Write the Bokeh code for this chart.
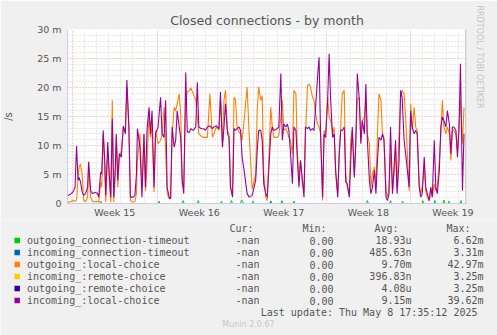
from bokeh.plotting import figure
from bokeh.layouts import column, row
from bokeh.models import Range1d, FixedTicker, Grid, Span, Title
from bokeh.core.properties import value
from bokeh.embed import file_html
from bokeh.resources import INLINE

# ---------------- data (values in milli-connections per second) ----------------
# time: hours since Monday 00:00 of week 15
hours = [-9, -4, 1, 5, 8, 11, 13, 16, 19, 22,
         26, 30, 32, 36, 40, 44, 49, 52, 56, 58,
         61, 64, 66, 70, 73, 76, 79, 82, 85, 87,
         90, 93, 97, 101, 105, 108, 112, 115, 120, 124,
         127, 129, 134, 138, 142, 145, 148, 152, 155, 158,
         162, 165, 170, 175, 178, 182, 185, 188, 192, 195,
         198, 202, 205, 208, 212, 215, 218, 221, 225, 228,
         232, 235, 240, 245, 248, 251, 256, 261, 264, 268,
         273, 278, 281, 286, 291, 294, 298, 301, 304, 308,
         311, 314, 318, 321, 324, 327, 331, 334, 337, 341,
         347, 351, 357, 364, 367, 370, 374, 377, 380, 384,
         387, 394, 397, 400, 407, 410, 414, 417, 420, 424,
         427, 430, 433, 437, 440, 444, 447, 450, 453, 457,
         460, 463, 467, 470, 473, 477, 480, 483, 487, 490,
         493, 497, 500, 503, 507, 510, 513, 517, 520, 523,
         527, 530, 533, 536, 540, 543, 546, 550, 553, 556,
         560, 563, 566, 570, 573, 576, 580, 583, 586, 590,
         593, 596, 600, 603, 606, 609, 613, 616, 619, 623,
         626, 629, 632, 636, 639, 642, 645, 649, 652, 655,
         659, 662, 669, 672, 675, 679, 682, 685, 689, 692,
         695, 699, 702, 705, 709, 712, 715, 719, 722, 725,
         729, 732, 735, 738, 742, 745, 749, 752, 755, 758,
         762, 765, 768, 771, 775, 778]

incoming_local_choice = [
    1.4, 1.6, 2.0, 2.8, 9.9, 4.0, 4.5, 3.7, 2.0, 1.4,
    1.7, 2.8, 7.2, 2.2, 1.7, 1.9, 1.8, 1.1, 5.4, 5.1,
    12.6, 7.4, 1.4, 10.6, 5.1, 1.1, 14.6, 1.1, 6.3, 12.0,
    4.0, 8.6, 8.0, 13.4, 12.0, 21.3, 13.2, 1.1, 1.1, 1.4,
    5.1, 12.9, 9.7, 1.1, 12.0, 2.8, 12.6, 16.6, 12.0, 16.0,
    2.8, 12.0, 13.2, 18.3, 12.0, 11.4, 17.8, 2.8, 1.1, 0.8,
    13.2, 9.7, 10.9, 16.0, 13.2, 11.4, 4.0, 1.7, 22.6, 12.3,
    12.3, 12.9, 12.6, 13.2, 20.9, 13.2, 12.9, 12.9, 12.6, 13.2,
    13.4, 12.9, 13.2, 13.4, 12.9, 19.2, 9.7, 13.2, 17.2, 12.0,
    11.4, 2.8, 1.1, 12.9, 12.6, 12.9, 13.2, 12.6, 8.0, 5.7,
    1.7, 1.1, 1.4, 4.0, 9.1, 12.6, 12.6, 10.9, 3.4, 1.7,
    1.1, 12.0, 13.2, 12.6, 12.9, 13.2, 22.4, 10.9, 13.7, 13.2,
    13.7, 12.6, 9.1, 3.4, 13.2, 12.6, 7.4, 2.8, 7.4, 4.0,
    1.1, 13.2, 12.9, 13.2, 12.6, 12.9, 12.6, 16.6, 21.8, 25.2,
    12.0, 1.1, 12.0, 11.4, 17.8, 25.8, 17.8, 11.4, 12.0, 5.7,
    1.1, 8.6, 12.6, 12.6, 13.2, 3.7, 3.4, 1.1, 7.4, 13.2,
    4.5, 10.3, 22.4, 17.8, 10.3, 14.3, 12.0, 20.6, 10.9, 4.0,
    1.7, 2.8, 5.7, 1.7, 7.4, 11.4, 10.9, 12.0, 10.9, 1.1,
    0.5, 1.7, 13.2, 1.7, 6.3, 10.9, 1.7, 7.4, 19.5, 18.3,
    10.9, 8.6, 2.8, 16.0, 13.2, 12.0, 12.6, 12.0, 2.8, 1.1,
    1.7, 8.0, 2.8, 1.7, 0.5, 2.8, 1.1, 10.9, 2.8, 1.7,
    5.7, 13.2, 14.9, 14.3, 13.2, 16.0, 13.7, 8.6, 13.2, 13.2,
    12.6, 8.0, 12.6, 24.1, 2.2, 12.0]

outgoing_local_choice = [
    0.2, 0.3, 0.5, 0.4, 0.6, 4.5, 6.3, 6.8, 5.1, 0.6,
    0.3, 1.1, 7.0, 1.1, 0.3, 0.3, 0.4, 0.2, 3.7, 2.8,
    12.0, 6.3, 0.2, 9.7, 4.0, 0.2, 17.8, 0.2, 5.1, 11.4,
    2.8, 8.0, 9.1, 13.2, 12.3, 20.1, 12.9, 0.5, 0.2, 0.3,
    1.7, 7.4, 12.0, 2.8, 12.0, 2.2, 6.3, 16.0, 11.4, 13.2,
    2.0, 12.6, 10.3, 10.9, 12.0, 16.6, 9.1, 1.7, 0.8, 1.1,
    12.0, 16.6, 16.0, 17.2, 18.9, 15.5, 3.4, 2.8, 17.8, 19.2,
    19.5, 19.9, 18.9, 17.8, 14.9, 12.0, 11.6, 11.4, 11.4, 11.4,
    18.9, 11.4, 12.0, 13.2, 12.6, 17.8, 10.3, 17.8, 19.5, 12.6,
    12.0, 3.1, 1.4, 18.3, 17.8, 13.2, 12.3, 12.0, 10.9, 14.3,
    20.1, 12.0, 2.5, 5.1, 16.0, 20.1, 17.8, 18.6, 5.1, 1.1,
    0.5, 16.6, 13.2, 11.4, 11.4, 11.7, 14.9, 17.8, 12.6, 12.9,
    12.3, 11.4, 10.9, 8.6, 19.5, 18.9, 8.6, 4.0, 7.4, 3.4,
    2.2, 12.0, 20.3, 20.6, 20.1, 18.3, 17.8, 15.5, 13.7, 13.2,
    12.0, 0.5, 12.6, 12.0, 18.3, 14.9, 14.3, 12.0, 13.2, 5.1,
    1.7, 8.0, 13.2, 18.9, 19.5, 5.1, 2.8, 1.7, 10.9, 12.6,
    5.1, 10.9, 17.8, 18.3, 10.9, 14.3, 14.9, 17.8, 12.0, 10.3,
    2.8, 5.1, 6.3, 2.8, 12.0, 18.9, 17.8, 12.0, 11.4, 2.2,
    1.1, 2.8, 8.6, 2.2, 5.1, 9.1, 2.8, 12.0, 18.3, 19.5,
    18.9, 14.9, 2.2, 17.2, 12.6, 16.6, 13.2, 12.6, 3.4, 1.7,
    2.8, 6.3, 2.2, 1.1, 0.5, 2.8, 1.1, 3.4, 2.2, 2.8,
    7.4, 12.0, 17.8, 13.2, 12.0, 13.2, 12.0, 7.4, 12.6, 12.6,
    12.0, 9.1, 13.2, 17.8, 10.3, 16.6]

green_hours = [-9, 54, 56, 58, 170, 172, 174, 218, 220, 222, 248, 250, 252,
               294, 296, 298, 314, 316, 318, 334, 336, 338, 340, 357, 359, 361,
               414, 416, 418, 438, 440, 442, 584, 586, 588, 630, 632, 634,
               654, 656, 658, 694, 696, 698, 718, 720, 722, 736, 738, 740,
               746, 748, 750, 770, 772, 774, 778]
outgoing_connection_timeout = [0, 0, 0.4, 0, 0, 0.4, 0, 0, 0.5, 0, 0, 0.5, 0,
                               0, 0.4, 0, 0, 0.5, 0, 0, 0.6, 0.4, 0, 0, 0.4, 0,
                               0, 0.5, 0, 0, 0.4, 0, 0, 0.5, 0, 0, 0.5, 0,
                               0, 0.4, 0, 0, 0.5, 0, 0, 0.5, 0, 0, 0.6, 0,
                               0, 0.4, 0, 0, 0.5, 0, 0]
blue_hours = [-9, 392, 394, 396, 778]
incoming_connection_timeout = [0, 0, 0.4, 0, 0]
yellow_hours = [-9, 668]
incoming_remote_choice = [0, 0]
darkblue_hours = [714, 778]
outgoing_remote_choice = [0, 0]

week_labels = ["Week 15", "Week 16", "Week 17", "Week 18", "Week 19"]
y_ticks = [0, 5, 10, 15, 20, 25, 30]
y_labels = ["0", "5 m", "10 m", "15 m", "20 m", "25 m", "30 m"]

legend_names = ["outgoing_connection-timeout", "incoming_connection-timeout",
                "outgoing_:local-choice", "incoming_:remote-choice",
                "outgoing_:remote-choice", "incoming_:local-choice"]
legend_colors = ["#00CC00", "#0066B3", "#FF8000", "#FFCC00", "#330099", "#990099"]
legend_cur = ["-nan"] * 6
legend_min = ["0.00"] * 6
legend_avg = ["18.93u", "485.63n", "9.70m", "396.83n", "4.08u", "9.15m"]
legend_max = ["6.62m", "3.31m", "42.97m", "3.25m", "3.25m", "39.62m"]
headers = ["Cur:", "Min:", "Avg:", "Max:"]

# ---------------- chart ----------------
W = 497
H1 = 220          # chart part
H2 = 335 - H1     # legend part
FL, FR, FT, FB = 67, 466, 29, 203
X0, X1 = -10.0, 783.0
GREY_TXT = "#555555"
BG = "#F0F0F0"

p = figure(width=W, height=H1, output_backend="svg", toolbar_location=None,
           x_range=Range1d(X0, X1), y_range=Range1d(0, 30),
           min_border_left=FL, min_border_right=W - FR,
           min_border_top=FT, min_border_bottom=H1 - FB)
p.border_fill_color = BG
p.background_fill_color = "#FFFFFF"
p.outline_line_color = None
p.xgrid.visible = False
p.ygrid.visible = False

p.title.text = "Closed connections - by month"
p.title.align = "center"
p.title.offset = -18
p.title.text_font = "DejaVu Sans"
p.title.text_font_size = "12.5px"
p.title.text_font_style = "normal"
p.title.text_color = GREY_TXT
p.title.standoff = 4

p.add_layout(Title(text="RRDTOOL / TOBI OETIKER", align="left", offset=-24,
                   text_font="DejaVu Sans", text_font_size="8px", text_font_style="normal",
                   text_color="#C4C4C4", standoff=16), "right")

day_ticks = [24 * k for k in range(0, 33) if k % 7 != 0]
week_ticks = [24 * k for k in range(0, 33, 7)]
minor_y = [v for v in range(1, 30) if v % 5 != 0]

p.add_layout(Grid(dimension=0, ticker=FixedTicker(ticks=day_ticks),
                  grid_line_color="#D4D4D4", grid_line_dash="1 2"), "center")
p.add_layout(Grid(dimension=1, ticker=FixedTicker(ticks=minor_y),
                  grid_line_color="#D4D4D4", grid_line_dash="1 2"), "center")
p.add_layout(Grid(dimension=0, ticker=FixedTicker(ticks=week_ticks),
                  grid_line_color="#E89A9A", grid_line_dash="1 2"), "center")
p.add_layout(Grid(dimension=1, ticker=FixedTicker(ticks=y_ticks[1:]),
                  grid_line_color="#E89A9A", grid_line_dash="1 2"), "center")

axis_col = "#C8CCF0"
for ax in (p.xaxis[0], p.yaxis[0]):
    ax.axis_line_color = axis_col
    ax.major_tick_line_color = None
    ax.minor_tick_line_color = None
    ax.major_tick_out = 0
    ax.major_tick_in = 0
    ax.minor_tick_out = 0
    ax.minor_tick_in = 0
    ax.major_label_text_font = "DejaVu Sans"
    ax.major_label_text_font_size = "9.5px"
    ax.major_label_text_color = GREY_TXT

p.yaxis.ticker = FixedTicker(ticks=y_ticks)
p.yaxis.major_label_overrides = {t: l for t, l in zip(y_ticks, y_labels)}
p.yaxis.major_label_standoff = 6
p.yaxis.axis_label = "/s"
p.yaxis.axis_label_text_font = "DejaVu Sans"
p.yaxis.axis_label_text_font_size = "10px"
p.yaxis.axis_label_text_font_style = "normal"
p.yaxis.axis_label_text_color = GREY_TXT
p.yaxis.axis_label_standoff = 20

mid_week = [84 + 168 * i for i in range(len(week_labels))]
p.xaxis.ticker = FixedTicker(ticks=mid_week)
p.xaxis.major_label_overrides = {t: l for t, l in zip(mid_week, week_labels)}
p.xaxis.major_label_standoff = 3

# series, in munin draw order
p.line(green_hours, outgoing_connection_timeout, line_color=legend_colors[0], line_width=1)
p.line(blue_hours, incoming_connection_timeout, line_color=legend_colors[1], line_width=1)
p.line(hours, outgoing_local_choice, line_color=legend_colors[2], line_width=1.1)
p.line(yellow_hours, incoming_remote_choice, line_color="#E8C070", line_width=1)
p.line(darkblue_hours, outgoing_remote_choice, line_color="#8070C8", line_width=1)
p.line(hours, incoming_local_choice, line_color=legend_colors[5], line_width=1.1)

p.add_layout(Span(location=X1 - 1, dimension="height", line_color="#A0A0A0", line_width=1))

# ---------------- legend part (data units = page pixels) ----------------
q = figure(width=W, height=H2, output_backend="svg", toolbar_location=None,
           x_range=Range1d(0, W), y_range=Range1d(335, H1),
           x_axis_location=None, y_axis_location=None, min_border=0)
q.border_fill_color = BG
q.background_fill_color = BG
q.outline_line_color = None
q.grid.visible = False

MONO = value("DejaVu Sans Mono")
head_y, row_y0, row_dy = 228, 240, 12
rows_y = [row_y0 + row_dy * i for i in range(len(legend_names))]

q.text(x=[253, 326, 398, 470], y=[head_y] * 4, text=headers, text_font=MONO,
       text_font_size="10px", text_color=GREY_TXT, text_align="right", text_baseline="middle")
q.rect(x=[16.7] * 6, y=rows_y, width=5.5, height=5.5, fill_color=legend_colors, line_color=None)
q.text(x=[26.5] * 6, y=rows_y, text=legend_names, text_font=MONO, text_font_size="10px",
       text_color=GREY_TXT, text_align="left", text_baseline="middle")
for col_x, col in zip([259, 333, 411, 483], [legend_cur, legend_min, legend_avg, legend_max]):
    q.text(x=[col_x] * 6, y=rows_y, text=col, text_font=MONO, text_font_size="10px",
           text_color=GREY_TXT, text_align="right", text_baseline="middle")
q.text(x=[483], y=[312], text=["Last update: Thu May  8 17:35:12 2025"], text_font=MONO,
       text_font_size="10px", text_color=GREY_TXT, text_align="right", text_baseline="middle")
q.text(x=[248], y=[324], text=["Munin 2.0.67"], text_font=value("DejaVu Sans"),
       text_font_size="8px", text_color="#C8C8C8", text_align="center", text_baseline="middle")

open("out.html", "w").write(file_html(column(row(p), row(q), spacing=0), INLINE))
